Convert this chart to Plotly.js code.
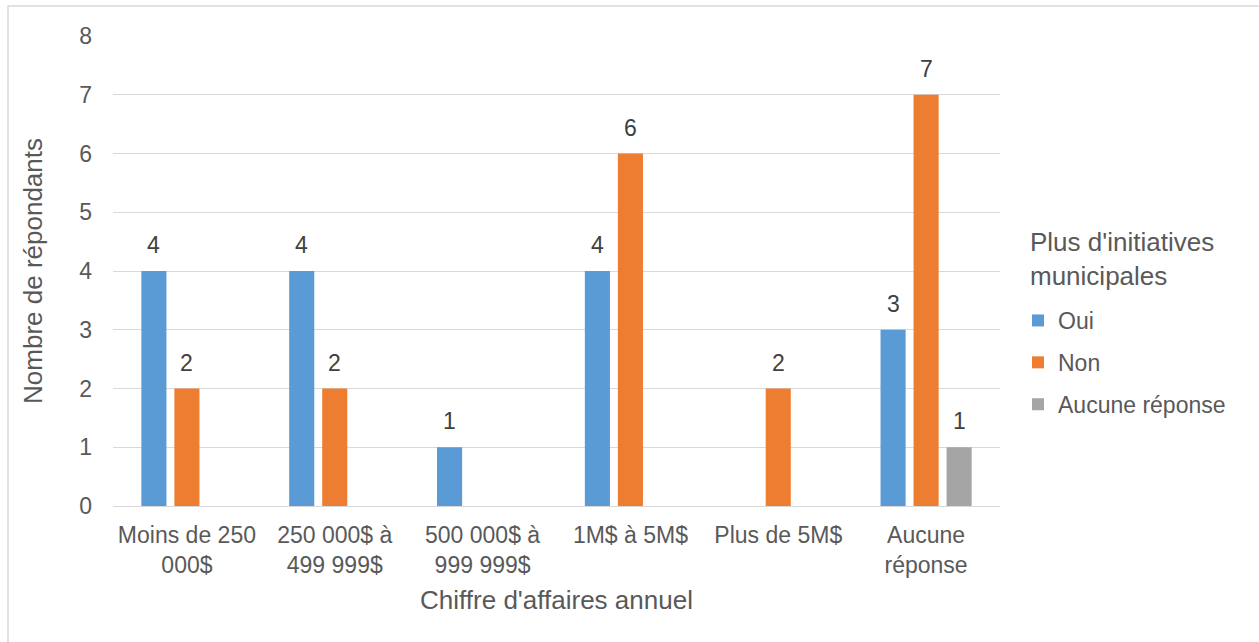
<!DOCTYPE html>
<html>
<head>
<meta charset="utf-8">
<script src="https://cdn.plot.ly/plotly-3.0.1.min.js"></script>
<style>html,body{margin:0;padding:0;background:#fff;}#chart{width:1259px;height:642px;}</style>
</head>
<body>
<div id="chart"></div>
<script>
const categories = ["Moins de 250<br>000$", "250 000$ à<br>499 999$", "500 000$ à<br>999 999$", "1M$ à 5M$", "Plus de 5M$", "Aucune<br>réponse"];
const oui = [4, 4, 1, 4, null, 3];
const non = [2, 2, null, 6, 2, 7];
const aucune = [null, null, null, null, null, 1];
const seriesNames = ["Oui", "Non", "Aucune réponse"];
const colors = ["#5B9BD5", "#ED7D31", "#A5A5A5"];
const yTicks = [0, 1, 2, 3, 4, 5, 6, 7, 8];
const legendTitle = "Plus d'initiatives<br>municipales";

const font = "Liberation Sans, Arial, sans-serif";
const txt = "#595959";
const series = [oui, non, aucune];

const data = series.map((vals, i) => ({
  type: "bar",
  name: seriesNames[i],
  legendgroup: "g" + i,
  x: categories,
  y: vals,
  marker: {color: colors[i]},
  hoverinfo: "x+y+name"
}));

const L = 113, R = 1000, T = 36, B = 506;
const W = R - L, H = B - T;
const px = x => (x - L) / W;
const py = y => (B - y) / H;
const pitch = 33;

const annotations = [];
series.forEach((vals, i) => {
  vals.forEach((v, j) => {
    if (v == null) return;
    annotations.push({
      x: categories[j], y: v, xref: "x", yref: "y",
      text: String(v), showarrow: false,
      xanchor: "center", yanchor: "bottom",
      xshift: (i - 1) * pitch, yshift: 11,
      font: {family: font, size: 23, color: "#404040"}
    });
  });
});
annotations.push({
  xref: "paper", yref: "paper", x: px(1028), y: py(225),
  xanchor: "left", yanchor: "top", align: "left",
  text: legendTitle, showarrow: false,
  font: {family: font, size: 26, color: txt}
});

const layout = {
  width: 1259,
  height: 642,
  margin: {l: L, r: 1259 - R, t: T, b: 642 - B, pad: 0},
  paper_bgcolor: "#ffffff",
  plot_bgcolor: "#ffffff",
  font: {family: font, size: 23, color: txt},
  barmode: "group",
  bargap: 0.33,
  bargroupgap: 0.24,
  xaxis: {
    type: "category",
    tickfont: {family: font, size: 23, color: txt},
    showgrid: false,
    showline: true,
    linecolor: "#d9d9d9",
    linewidth: 1,
    ticks: "",
    ticklabelstandoff: 8,
    title: {text: "Chiffre d'affaires annuel", font: {family: font, size: 26, color: txt}, standoff: 14},
    fixedrange: true
  },
  yaxis: {
    range: [0, 8],
    tickvals: yTicks,
    tickfont: {family: font, size: 23, color: txt},
    showgrid: true,
    gridcolor: "#d9d9d9",
    gridwidth: 1,
    zeroline: false,
    showline: false,
    ticks: "",
    ticklen: 0,
    ticklabelstandoff: 20,
    title: {text: "Nombre de répondants", font: {family: font, size: 26, color: txt}, standoff: 29},
    fixedrange: true
  },
  showlegend: true,
  legend: {
    x: px(1018),
    y: py(299),
    xanchor: "left",
    yanchor: "top",
    font: {family: font, size: 23, color: txt},
    tracegroupgap: 9,
    itemwidth: 30,
    traceorder: "grouped",
    bgcolor: "rgba(0,0,0,0)"
  },
  annotations: annotations,
  shapes: [{
    type: "rect",
    xref: "paper", yref: "paper",
    x0: px(8), x1: px(1275),
    y0: py(660), y1: py(6),
    line: {color: "#d9d9d9", width: 1.5},
    fillcolor: "rgba(0,0,0,0)",
    layer: "below"
  }]
};

Plotly.newPlot("chart", data, layout, {displayModeBar: false, staticPlot: true});
</script>
</body>
</html>
